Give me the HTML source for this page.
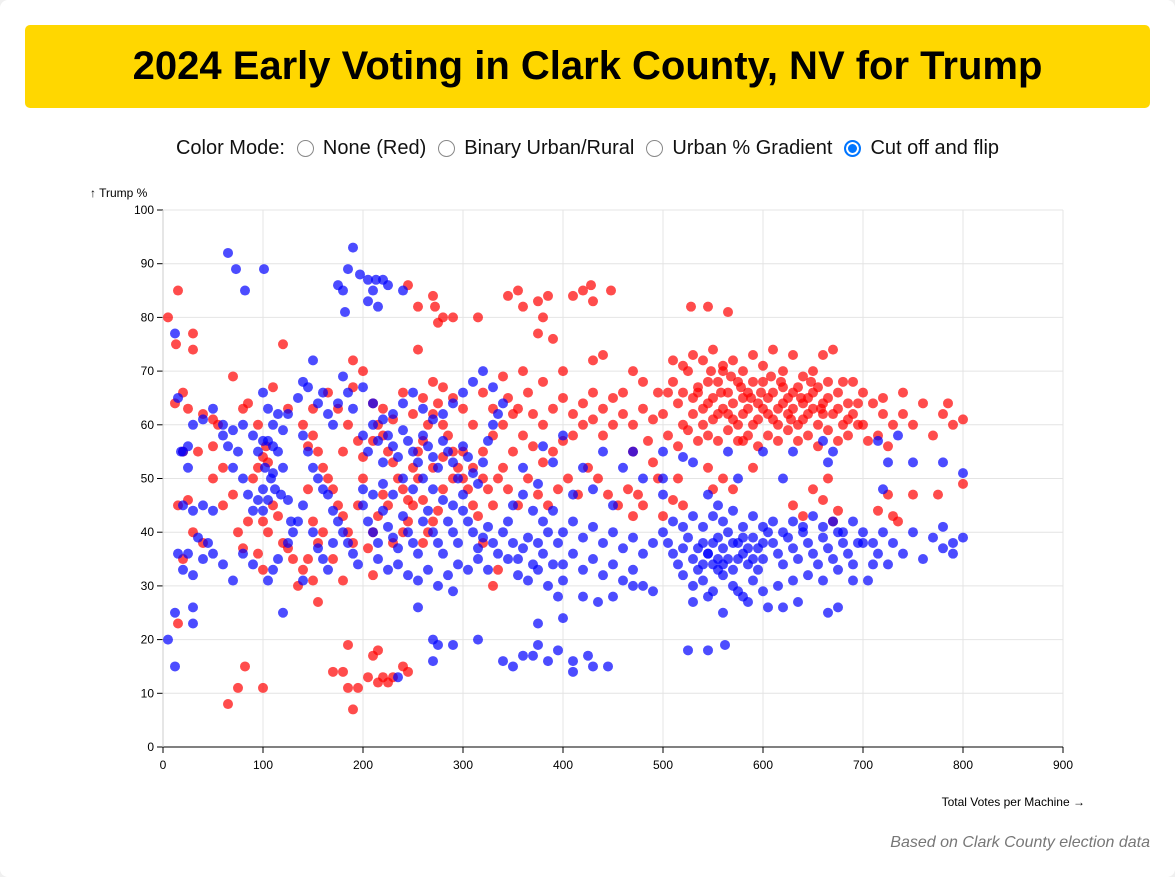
<!DOCTYPE html>
<html><head><meta charset="utf-8">
<style>
html,body{margin:0;padding:0;}
body{width:1175px;height:877px;background:#f0f0f0;font-family:"Liberation Sans",Arial,sans-serif;position:relative;overflow:hidden;}
#card{position:absolute;left:0;top:0;width:1175px;height:877px;background:#fff;border-radius:8px;}
#title{position:absolute;left:25px;top:25px;width:1125px;height:83px;background:#FFD700;border-radius:5px;display:flex;align-items:center;justify-content:center;font-weight:bold;font-size:40px;color:#000;}
#modes{position:absolute;left:0;top:134px;width:1175px;height:28px;display:flex;align-items:center;justify-content:center;font-size:20px;color:#111;}
.radio{display:inline-block;width:17px;height:17px;border-radius:50%;border:1px solid #888;box-sizing:border-box;margin:0 9px 0 12px;background:#fff;}
.radio.on{border:2px solid #0075ff;box-shadow:inset 0 0 0 2px #fff;background:#0075ff;}
#chart{position:absolute;left:0;top:0;}
#foot{position:absolute;right:25px;top:834px;font-size:16px;font-style:italic;color:#777;}
</style></head><body>
<div id="card">
<div id="title">2024 Early Voting in Clark County, NV for Trump</div>
<div id="modes">
<span>Color Mode:</span>
<span class="radio"></span><span>None (Red)</span>
<span class="radio"></span><span>Binary Urban/Rural</span>
<span class="radio"></span><span>Urban % Gradient</span>
<span class="radio on"></span><span>Cut off and flip</span>
</div>
<svg id="chart" width="1175" height="877"></svg>
<div id="foot">Based on Clark County election data</div>
</div>
<script>
const xTicks=[0,100,200,300,400,500,600,700,800,900];
const yTicks=[0,10,20,30,40,50,60,70,80,90,100];
const redPoints=[[5,80],[15,85],[13,75],[30,77],[30,74],[12,64],[20,66],[25,63],[40,62],[50,61],[55,60],[35,55],[20,55],[50,56],[60,52],[70,69],[80,63],[85,64],[95,60],[100,54],[105,53],[110,67],[120,75],[103,56],[95,52],[90,50],[110,45],[115,43],[100,42],[105,40],[120,38],[125,37],[80,37],[85,42],[75,40],[70,47],[60,45],[50,50],[40,38],[30,40],[25,46],[15,45],[20,35],[95,36],[100,33],[130,35],[125,63],[140,60],[145,56],[150,58],[155,55],[160,52],[165,50],[170,48],[175,45],[180,55],[185,60],[175,63],[165,66],[150,63],[145,48],[150,42],[155,38],[160,40],[145,35],[140,33],[135,30],[155,27],[150,31],[170,35],[180,43],[185,40],[190,38],[195,45],[200,50],[195,57],[190,67],[190,72],[200,70],[210,64],[215,60],[220,58],[225,55],[230,53],[235,50],[240,48],[245,46],[250,52],[255,55],[260,57],[265,60],[270,62],[275,64],[280,60],[285,58],[290,55],[295,52],[300,50],[305,48],[310,45],[280,48],[275,44],[270,42],[265,40],[260,46],[255,50],[250,45],[245,42],[240,40],[230,38],[225,45],[220,47],[215,43],[210,40],[205,37],[260,38],[270,52],[280,54],[290,50],[300,55],[310,52],[320,50],[325,48],[330,45],[315,43],[320,55],[330,58],[340,60],[350,62],[310,60],[300,63],[290,65],[280,67],[270,68],[260,65],[250,62],[240,66],[230,61],[220,63],[210,57],[200,54],[255,74],[245,86],[270,84],[272,82],[275,79],[280,80],[290,80],[315,80],[255,82],[345,84],[355,85],[360,82],[375,83],[385,84],[380,80],[390,76],[375,77],[410,84],[420,85],[428,86],[430,83],[448,85],[440,73],[430,72],[400,70],[380,68],[360,70],[340,69],[320,66],[330,63],[345,65],[355,63],[365,66],[370,62],[380,60],[390,63],[400,65],[410,62],[420,64],[430,66],[440,63],[450,65],[460,62],[470,60],[480,63],[490,61],[495,66],[480,68],[470,70],[460,66],[450,60],[440,58],[430,61],[420,60],[410,58],[400,57],[390,55],[380,53],[370,56],[360,58],[350,55],[340,52],[335,50],[345,48],[355,45],[365,50],[375,47],[385,45],[395,48],[405,50],[415,47],[425,52],[435,50],[445,47],[455,45],[465,48],[470,55],[485,57],[490,53],[495,50],[475,47],
[500,62],[505,66],[510,68],[515,64],[520,60],[525,70],[530,65],[535,67],[540,63],[545,68],[550,65],[555,62],[560,70],[565,66],[570,64],[575,68],[580,62],[585,66],[590,60],[595,64],[600,68],[605,62],[610,66],[615,60],[620,64],[625,62],[630,66],[635,60],[640,64],[645,62],[650,66],[655,60],[660,64],[665,68],[670,62],[675,66],[680,60],[685,64],[690,62],[700,60],[710,64],[720,62],[715,58],[705,57],[695,60],[685,58],[675,57],[665,59],[655,56],[645,58],[635,57],[625,59],[615,57],[605,58],[595,56],[585,58],[575,57],[565,59],[555,57],[545,58],[535,57],[525,59],[515,56],[505,58],[510,72],[520,71],[530,73],[540,72],[550,74],[560,71],[570,72],[580,70],[590,73],[600,71],[610,74],[620,70],[630,73],[640,69],[650,70],[660,73],[670,74],[680,68],[690,68],[700,66],[528,82],[545,82],[565,81],[535,66],[545,64],[555,68],[560,63],[570,61],[580,65],[590,68],[600,63],[610,61],[620,67],[630,63],[640,61],[650,63],[660,62],[540,60],[550,61],[565,62],[575,60],[585,63],[595,61],[605,65],[615,63],[625,65],[635,67],[645,65],[655,67],[665,65],[675,63],[685,61],[695,64],[520,66],[530,62],[548,70],[558,66],[568,69],[578,67],[588,65],[598,66],[608,69],[618,68],[628,61],[638,65],[648,68],[658,63],
[720,65],[730,60],[740,62],[750,60],[760,64],[770,58],[780,62],[790,60],[800,61],[785,64],[740,66],[725,56],[730,43],[725,47],[750,47],[775,47],[800,49],[735,42],[715,44],[660,46],[665,50],[670,42],[675,44],[650,48],[640,43],[630,45],[580,57],[590,52],[570,48],[545,52],[550,48],[560,50],[520,45],[510,46],[515,50],[500,43],[480,45],[470,43],
[170,14],[180,14],[185,19],[185,11],[190,7],[195,11],[205,13],[210,17],[215,18],[220,13],[225,12],[230,13],[240,15],[245,14],[215,12],[65,8],[75,11],[82,15],[100,11],[15,23],[210,32],[180,31],[330,30],[335,33],[320,38]];
const bluePoints=[[5,20],[12,15],[12,25],[30,26],[30,23],[20,33],[15,36],[25,36],[30,32],[40,35],[50,36],[60,34],[70,31],[80,36],[90,34],[20,45],[30,44],[40,45],[50,44],[35,39],[45,38],[25,52],[20,55],[25,56],[30,60],[40,61],[50,63],[60,58],[70,59],[80,60],[90,58],[100,66],[105,63],[110,60],[115,62],[125,62],[120,59],[95,55],[100,57],[105,57],[110,56],[115,55],[102,52],[108,50],[112,48],[118,47],[100,48],[95,46],[90,44],[85,47],[80,50],[70,52],[75,55],[65,56],[60,60],[100,44],[105,46],[110,51],[120,52],[125,46],[128,42],[130,40],[125,38],[115,35],[110,33],[105,31],[120,25],[65,92],[73,89],[82,85],[101,89],[12,77],[15,65],[18,55],[135,65],[140,68],[145,67],[150,72],[155,64],[160,66],[165,62],[170,60],[175,64],[180,69],[185,66],[190,63],[140,58],[145,55],[150,52],[155,50],[160,48],[165,47],[170,44],[175,42],[180,40],[185,38],[190,36],[195,34],[140,45],[135,42],[150,40],[155,37],[160,35],[165,33],[170,38],[140,31],[175,86],[180,85],[182,81],[185,89],[190,93],[197,88],[205,87],[210,85],[213,87],[220,87],[225,86],[240,85],[215,82],[205,83],[235,13],
[200,58],[205,55],[210,60],[215,57],[220,53],[225,58],[230,56],[235,54],[240,59],[245,57],[250,55],[255,53],[260,58],[265,56],[270,54],[275,52],[280,57],[285,55],[290,53],[295,50],[300,56],[305,54],[310,51],[315,49],[320,53],[325,57],[330,60],[335,62],[340,64],[330,67],[320,70],[310,68],[300,66],[290,64],[280,62],[270,61],[260,63],[250,66],[240,64],[230,62],[220,61],[210,64],[200,67],
[200,45],[205,42],[210,40],[215,38],[220,44],[225,41],[230,39],[235,37],[240,43],[245,40],[250,38],[255,36],[260,42],[265,44],[270,40],[275,38],[280,36],[285,42],[290,40],[295,38],[300,44],[305,42],[310,40],[315,37],[320,39],[325,41],[330,38],[335,36],[340,40],[345,42],[350,38],[355,35],[360,37],[365,39],[370,34],[375,38],[380,36],[385,40],[390,34],[395,38],[200,48],[210,47],[220,49],[230,47],[240,50],[250,48],[260,50],[270,48],[280,46],[290,45],[300,47],[215,35],[225,33],[235,34],[245,32],[255,31],[265,33],[275,30],[285,32],[295,34],[305,33],[315,35],[325,33],[345,35],[355,32],[365,31],[375,33],[385,30],[395,28],[290,29],[255,26],[270,20],[275,19],[290,19],[270,16],[315,20],[340,16],[350,15],[360,17],[370,17],[375,19],[385,16],[395,18],[400,24],[375,23],[410,16],[410,14],[425,17],[430,15],[445,15],
[350,45],[360,47],[370,44],[380,42],[390,44],[400,40],[410,42],[420,39],[430,41],[440,38],[450,40],[460,37],[470,39],[480,36],[490,38],[400,34],[410,36],[420,33],[430,35],[440,32],[450,34],[460,31],[470,33],[480,30],[490,29],[400,31],[420,28],[435,27],[450,28],[470,30],[380,56],[390,53],[400,58],[420,52],[440,55],[460,52],[480,50],[500,55],[470,55],[360,52],[375,49],[410,47],[430,48],[450,45],[500,50],
[500,40],[505,38],[510,36],[515,34],[520,37],[525,39],[530,35],[535,33],[540,38],[545,36],[550,34],[555,39],[560,37],[565,35],[570,33],[575,38],[580,36],[585,34],[590,39],[595,37],[600,35],[605,40],[610,38],[615,36],[620,34],[625,39],[630,37],[635,35],[640,40],[645,38],[650,36],[655,34],[660,39],[665,37],[670,35],[675,40],[680,38],[685,36],[690,34],[695,38],[700,40],[510,42],[520,41],[530,43],[540,41],[550,43],[560,42],[570,44],[580,41],[590,43],[600,41],[610,42],[620,40],[630,42],[640,41],[650,43],[660,41],[670,42],[680,40],[690,42],[700,38],[520,32],[530,30],[540,31],[550,29],[560,32],[570,30],[580,28],[590,31],[600,29],[615,30],[630,31],[645,32],[660,31],[675,33],[690,31],[530,27],[545,28],[560,25],[575,29],[585,27],[605,26],[620,26],[635,27],[665,25],[675,26],[525,18],[545,18],[562,19],[545,36],[550,38],[555,33],[565,40],[570,38],[575,35],[580,39],[585,37],[590,35],[540,34],[535,37],[555,35],[560,34],[595,33],[600,38],
[520,54],[530,53],[545,47],[555,45],[565,55],[575,50],[600,55],[620,50],[630,55],[660,57],[665,53],[670,55],[500,47],
[710,38],[715,36],[720,40],[725,34],[730,38],[740,36],[750,40],[760,35],[770,39],[780,41],[790,38],[800,39],[800,51],[780,53],[750,53],[725,53],[715,57],[720,48],[735,58],[710,34],[705,31],[780,37],[790,36]];

const NS='http://www.w3.org/2000/svg';
const svg=document.getElementById('chart');
const X0=163,X1=1063,Y0=747,Y1=210;
function xs(v){return X0+(v-0)/(900-0)*(X1-X0);}
function ys(v){return Y0-(v-0)/(100-0)*(Y0-Y1);}
function mk(tag,attrs){const e=document.createElementNS(NS,tag);for(const k in attrs)e.setAttribute(k,attrs[k]);svg.appendChild(e);return e;}
xTicks.forEach(t=>{
  const g=mk('line',{x1:xs(t),x2:xs(t),y1:Y1,y2:Y0,stroke:'#e4e4e4','stroke-width':1});
  
  
  const tk=mk('line',{x1:xs(t),x2:xs(t),y1:Y0,y2:Y0+6,stroke:'#000'});
  
  
  const tx=mk('text',{x:xs(t),y:Y0+22,'text-anchor':'middle','font-size':12,fill:'#000','font-family':'Liberation Sans, sans-serif'});
  tx.textContent=t;
  
  
});
yTicks.forEach(t=>{
  const g=mk('line',{x1:X0,x2:X1,y1:ys(t),y2:ys(t),stroke:'#e4e4e4','stroke-width':1});
  
  
  const tk=mk('line',{x1:X0-6,x2:X0,y1:ys(t),y2:ys(t),stroke:'#000'});
  
  
  const tx=mk('text',{x:X0-9,y:ys(t)+4,'text-anchor':'end','font-size':12,fill:'#000','font-family':'Liberation Sans, sans-serif'});
  tx.textContent=t;
  
  
});
const xa=mk('line',{x1:X0,x2:X1,y1:Y0,y2:Y0,stroke:'#000'});


const ya=mk('line',{x1:X0,x2:X0,y1:Y1,y2:Y0,stroke:'#ccc'});


const yt=mk('text',{x:90,y:197,'font-size':12,fill:'#000','font-family':'Liberation Sans, DejaVu Sans, sans-serif'});
yt.textContent='↑ Trump %';


const xt=mk('text',{x:1085,y:806,'text-anchor':'end','font-size':12,fill:'#000','font-family':'Liberation Sans, DejaVu Sans, sans-serif'});
xt.textContent='Total Votes per Machine →';


redPoints.forEach(p=>{
  const c=mk('circle',{cx:xs(p[0]),cy:ys(p[1]),r:5,fill:'rgb(255,0,0)','fill-opacity':0.7});
  
  
});
bluePoints.forEach(p=>{
  const c=mk('circle',{cx:xs(p[0]),cy:ys(p[1]),r:5,fill:'rgb(0,0,255)','fill-opacity':0.7});
  
  
});
</script>
</body></html>
